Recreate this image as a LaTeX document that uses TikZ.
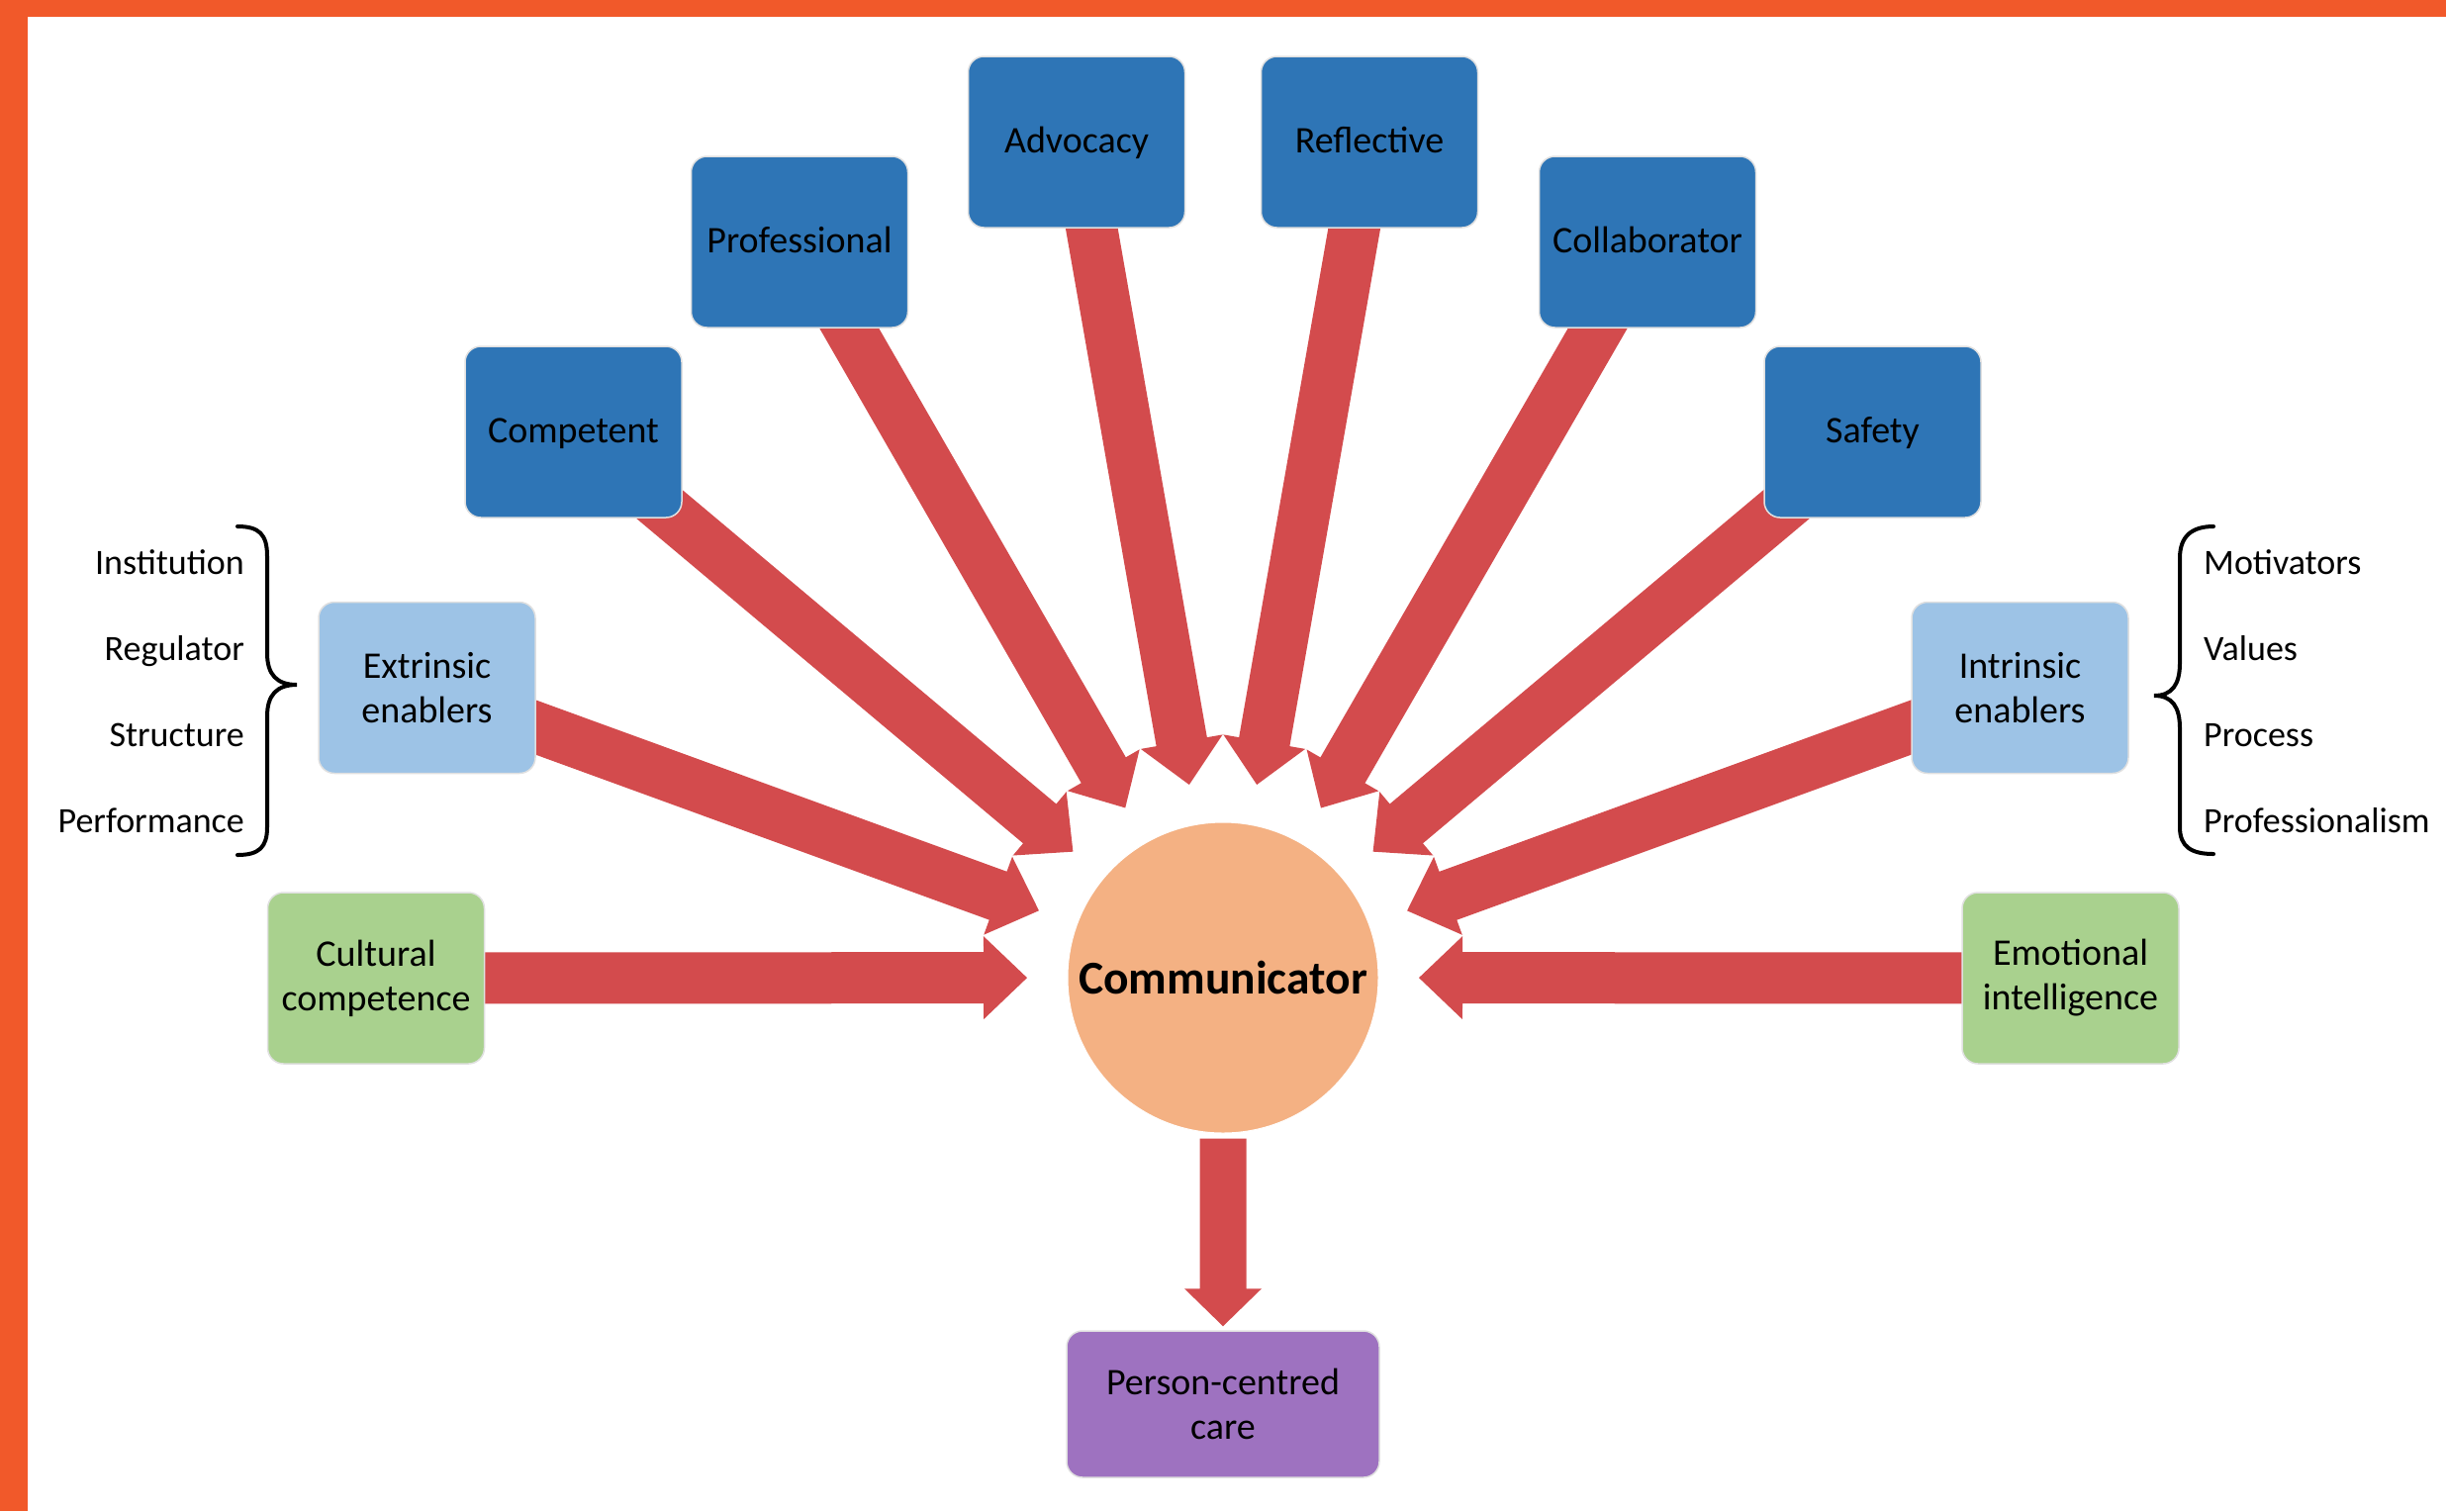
\documentclass[tikz,border=0pt]{standalone}
\usepackage{fontspec}
\setmainfont{Carlito}
\usetikzlibrary{calc,backgrounds}
\definecolor{borderorange}{RGB}{241,89,42}
\definecolor{boxblue}{RGB}{46,117,182}
\definecolor{lightblue}{RGB}{157,195,230}
\definecolor{boxgreen}{RGB}{169,209,142}
\definecolor{boxpurple}{RGB}{158,114,192}
\definecolor{circorange}{RGB}{244,177,131}
\definecolor{arrowred}{RGB}{211,75,77}
\newcommand{\fatarrow}[5]{%
  \coordinate (tmpb) at ($(#2)!#5!(#1)$);
  \fill[arrowred] ($(#1)!#3!90:(#2)$) -- ($(tmpb)!#3!-90:(#1)$) -- ($(tmpb)!#4!-90:(#1)$) -- (#2) -- ($(tmpb)!#4!90:(#1)$) -- ($(tmpb)!#3!90:(#1)$) -- ($(#1)!#3!-90:(#2)$) -- cycle;
}
\begin{document}
\begin{tikzpicture}[x=1pt,y=-1pt,
  box/.style={rectangle, rounded corners=16pt, minimum width=219pt, minimum height=173pt, inner sep=0pt, align=center, draw=black!12, line width=1.5pt, font=\fontsize{38}{45}\selectfont, text=black},
  bluebox/.style={box, fill=boxblue, text height=30pt, text depth=8pt},
  lbluebox/.style={box, fill=lightblue},
  greenbox/.style={box, fill=boxgreen},
  purplebox/.style={box, fill=boxpurple, minimum width=316pt, minimum height=148pt},
  lab/.style={inner sep=0pt, font=\fontsize{36}{43}\selectfont, text=black},
  bracestyle/.style={draw=black, line width=4pt, line cap=round}
]
\useasboundingbox (0,0) rectangle (2472,1527);
\fill[borderorange] (0,0) rectangle (2472,17);
\fill[borderorange] (0,0) rectangle (28,1527);

% nodes
\node[bluebox] (comp) at (579.5,436.5) {Competent};
\node[bluebox] (prof) at (808,244.5) {Professional};
\node[bluebox] (adv) at (1088,143.5) {Advocacy};
\node[bluebox] (refl) at (1384,143.5) {Reflective};
\node[bluebox] (coll) at (1665,244.5) {Collaborator};
\node[bluebox] (safe) at (1892.5,436.5) {Safety};
\node[lbluebox] (ext) at (431.5,695) {Extrinsic\\enablers};
\node[lbluebox] (int) at (2041.5,695) {Intrinsic\\enablers};
\node[greenbox] (cult) at (380,988.5) {Cultural\\competence};
\node[greenbox] (emo) at (2092.5,988.5) {Emotional\\intelligence};
\node[circle, fill=circorange, draw=white, line width=1pt, minimum size=314pt, inner sep=0pt, font=\bfseries\fontsize{47.5}{56}\selectfont] (comm) at (1236,988) {Communicator};
\node[purplebox] (pcc) at (1236,1419) {Person-centred\\care};

% labels
\node[lab, anchor=base east] (l1) at (247,580) {Institution};
\node[lab, anchor=base east] (l2) at (247,667) {Regulator};
\node[lab, anchor=base east] (l3) at (247,754) {Structure};
\node[lab, anchor=base east] (l4) at (247,841) {Performance};
\node[lab, anchor=base west] (r1) at (2227,580) {Motivators};
\node[lab, anchor=base west] (r2) at (2227,667) {Values};
\node[lab, anchor=base west] (r3) at (2227,754) {Process};
\node[lab, anchor=base west] (r4) at (2227,841) {Professionalism};

% braces
\draw[bracestyle] (240,532) .. controls (262,532) and (270,540) .. (270,562) -- (270,660) .. controls (270,682) and (280,692) .. (300,692) .. controls (280,692) and (270,702) .. (270,724) -- (270,836) .. controls (270,856) and (262,864) .. (240,864);
\draw[bracestyle] (2237,532) .. controls (2215,532) and (2203,542) .. (2203,564) -- (2203,670) .. controls (2203,692) and (2195,703) .. (2177,703) .. controls (2195,703) and (2203,714) .. (2203,736) -- (2203,836) .. controls (2203,856) and (2215,863) .. (2237,863);

% arrows
\begin{pgfonlayer}{background}
\foreach \n in {comp,prof,adv,refl,coll,safe,ext,int,cult,emo}{
  \coordinate (t-\n) at ($(comm.center)!198pt!(\n.center)$);
  \fatarrow{\n.center}{t-\n}{26pt}{42pt}{44pt}
}
\coordinate (ds) at ([yshift=-5pt]comm.south);
\coordinate (dt) at ([yshift=4pt]pcc.north);
\fatarrow{ds}{dt}{23.5pt}{39pt}{38pt}
\end{pgfonlayer}
\end{tikzpicture}
\end{document}
